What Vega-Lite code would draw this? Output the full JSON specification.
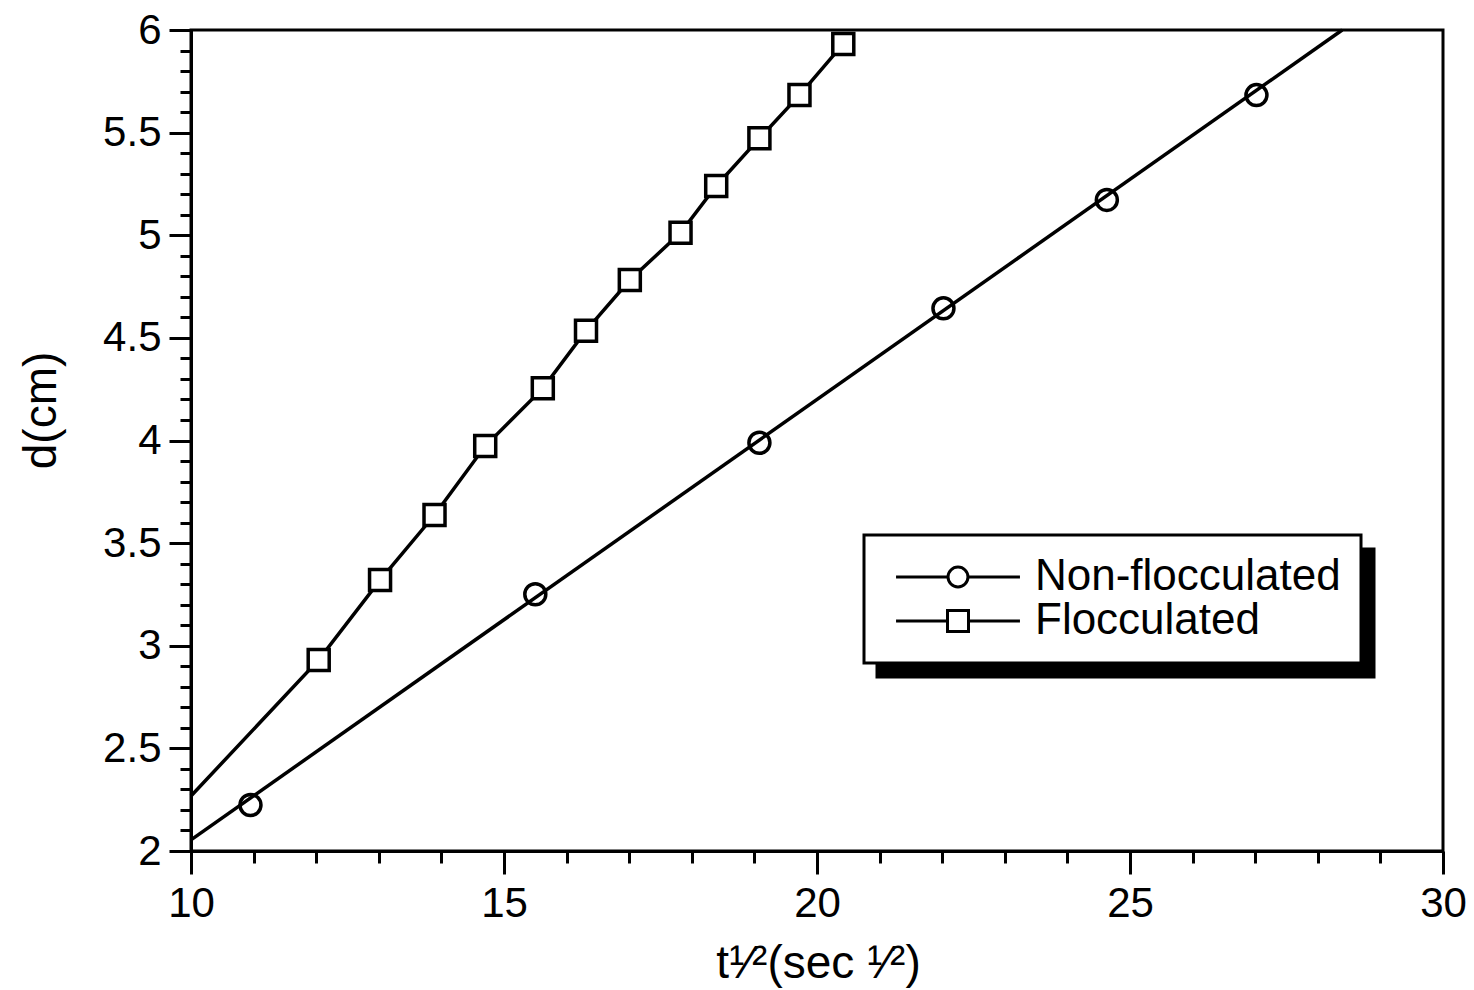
{
  "$schema": "https://vega.github.io/schema/vega-lite/v6.json",
  "width": 1252,
  "height": 821,
  "autosize": {"type": "none"},
  "padding": {"left": 191, "top": 30, "right": 31, "bottom": 139},
  "background": "white",
  "config": {
    "font": "Liberation Sans",
    "view": {"stroke": "black", "strokeWidth": 3},
    "axis": {
      "domainColor": "black",
      "domainWidth": 3,
      "tickColor": "black",
      "tickWidth": 3,
      "grid": false,
      "labelFont": "Liberation Sans",
      "labelFontSize": 42,
      "labelColor": "black",
      "titleFont": "Liberation Sans",
      "titleFontSize": 46,
      "titleFontWeight": "normal",
      "titleColor": "black"
    },
    "legend": {
      "strokeColor": "black",
      "strokeWidth": 3,
      "fillColor": "white",
      "padding": 20,
      "labelFont": "Liberation Sans",
      "labelFontSize": 44,
      "labelColor": "black",
      "labelLimit": 600,
      "symbolSize": 441,
      "symbolOffset": 52,
      "labelOffset": 55,
      "rowPadding": 0,
      "symbolStrokeWidth": 3,
      "symbolStrokeColor": "black",
      "symbolFillColor": "white"
    }
  },
  "datasets": {
    "points": [
      {"series": "Non-flocculated", "t": 10.95, "d": 2.224},
      {"series": "Non-flocculated", "t": 15.50, "d": 3.251},
      {"series": "Non-flocculated", "t": 19.08, "d": 3.989},
      {"series": "Non-flocculated", "t": 22.02, "d": 4.644},
      {"series": "Non-flocculated", "t": 24.63, "d": 5.172},
      {"series": "Non-flocculated", "t": 27.02, "d": 5.683},
      {"series": "Flocculated", "t": 12.04, "d": 2.931},
      {"series": "Flocculated", "t": 13.02, "d": 3.320},
      {"series": "Flocculated", "t": 13.89, "d": 3.637},
      {"series": "Flocculated", "t": 14.70, "d": 3.973},
      {"series": "Flocculated", "t": 15.62, "d": 4.254},
      {"series": "Flocculated", "t": 16.31, "d": 4.535},
      {"series": "Flocculated", "t": 17.01, "d": 4.782},
      {"series": "Flocculated", "t": 17.82, "d": 5.012},
      {"series": "Flocculated", "t": 18.39, "d": 5.240},
      {"series": "Flocculated", "t": 19.08, "d": 5.472},
      {"series": "Flocculated", "t": 19.72, "d": 5.683},
      {"series": "Flocculated", "t": 20.42, "d": 5.932}
    ],
    "lines": [
      {"series": "Non-flocculated", "t": 10.0, "d": 2.054},
      {"series": "Non-flocculated", "t": 28.39, "d": 6.0},
      {"series": "Flocculated", "t": 10.0, "d": 2.268},
      {"series": "Flocculated", "t": 12.04, "d": 2.931},
      {"series": "Flocculated", "t": 13.02, "d": 3.320},
      {"series": "Flocculated", "t": 13.89, "d": 3.637},
      {"series": "Flocculated", "t": 14.70, "d": 3.973},
      {"series": "Flocculated", "t": 15.62, "d": 4.254},
      {"series": "Flocculated", "t": 16.31, "d": 4.535},
      {"series": "Flocculated", "t": 17.01, "d": 4.782},
      {"series": "Flocculated", "t": 17.82, "d": 5.012},
      {"series": "Flocculated", "t": 18.39, "d": 5.240},
      {"series": "Flocculated", "t": 19.08, "d": 5.472},
      {"series": "Flocculated", "t": 19.72, "d": 5.683},
      {"series": "Flocculated", "t": 20.42, "d": 5.932}
    ]
  },
  "encoding": {
    "x": {
      "field": "t",
      "type": "quantitative",
      "scale": {"domain": [10, 30], "nice": false, "zero": false},
      "axis": {
        "title": "t¹⁄²(sec ¹⁄²)",
        "values": [10,11,12,13,14,15,16,17,18,19,20,21,22,23,24,25,26,27,28,29,30],
        "labelExpr": "datum.value % 5 === 0 ? format(datum.value, 'd') : ''",
        "tickSize": {"condition": {"test": "datum.value % 5 === 0", "value": 23}, "value": 12},
        "labelPadding": 9,
        "labelFlush": false,
        "labelOverlap": false,
        "titleX": 627,
        "titleY": 112,
        "titleAlign": "center",
        "titleBaseline": "middle"
      }
    },
    "y": {
      "field": "d",
      "type": "quantitative",
      "scale": {"domain": [2, 6], "nice": false, "zero": false},
      "axis": {
        "title": "d(cm)",
        "values": [2,2.1,2.2,2.3,2.4,2.5,2.6,2.7,2.8,2.9,3,3.1,3.2,3.3,3.4,3.5,3.6,3.7,3.8,3.9,4,4.1,4.2,4.3,4.4,4.5,4.6,4.7,4.8,4.9,5,5.1,5.2,5.3,5.4,5.5,5.6,5.7,5.8,5.9,6],
        "labelExpr": "abs(datum.value*2 - round(datum.value*2)) < 0.001 ? format(datum.value, '~g') : ''",
        "tickSize": {"condition": {"test": "abs(datum.value*2 - round(datum.value*2)) < 0.001", "value": 22}, "value": 11},
        "labelPadding": 8,
        "labelFlush": false,
        "labelOverlap": false,
        "titleX": -150,
        "titleY": 380,
        "titleAngle": -90,
        "titleAlign": "center",
        "titleBaseline": "middle"
      }
    }
  },
  "layer": [
    {
      "data": {"name": "points"},
      "mark": {"type": "point", "opacity": 0},
      "encoding": {
        "size": {
          "field": "series",
          "type": "nominal",
          "scale": {"range": [441, 441]},
          "legend": {
            "title": null,
            "orient": "none",
            "legendX": 686,
            "legendY": 519,
            "fillColor": "black",
            "strokeColor": "black",
            "labelColor": "black",
            "labelExpr": "''",
            "labelOffset": 361,
            "symbolOpacity": 0
          }
        }
      }
    },
    {
      "data": {"name": "lines"},
      "mark": {"type": "line", "color": "black", "strokeWidth": 3.5},
      "encoding": {"detail": {"field": "series"}}
    },
    {
      "data": {"name": "points"},
      "mark": {"type": "point", "filled": false, "color": "black", "strokeWidth": 3, "size": 441, "opacity": 0},
      "encoding": {
        "shape": {
          "field": "series",
          "type": "nominal",
          "scale": {
            "domain": ["Non-flocculated", "Flocculated"],
            "range": [
              "M-5.9,0H-0.95M0.95,0H5.9M-0.95,0A0.95,0.95 0 1,0 0.95,0A0.95,0.95 0 1,0 -0.95,0",
              "M-5.9,0H-1M1,0H5.9M-1,-1H1V1H-1Z"
            ]
          },
          "legend": {
            "title": null,
            "orient": "none",
            "legendX": 673,
            "legendY": 505,
            "symbolOpacity": 1
          }
        }
      }
    },
    {
      "data": {"name": "points"},
      "mark": {"type": "point", "filled": false, "color": "black", "strokeWidth": 3.5, "size": 441, "opacity": 1},
      "encoding": {
        "fill": {"condition": {"test": "datum.series === 'Flocculated'", "value": "white"}, "value": "transparent"},
        "shape": {"condition": {"test": "datum.series === 'Flocculated'", "value": "square"}, "value": "circle"}
      }
    }
  ]
}
